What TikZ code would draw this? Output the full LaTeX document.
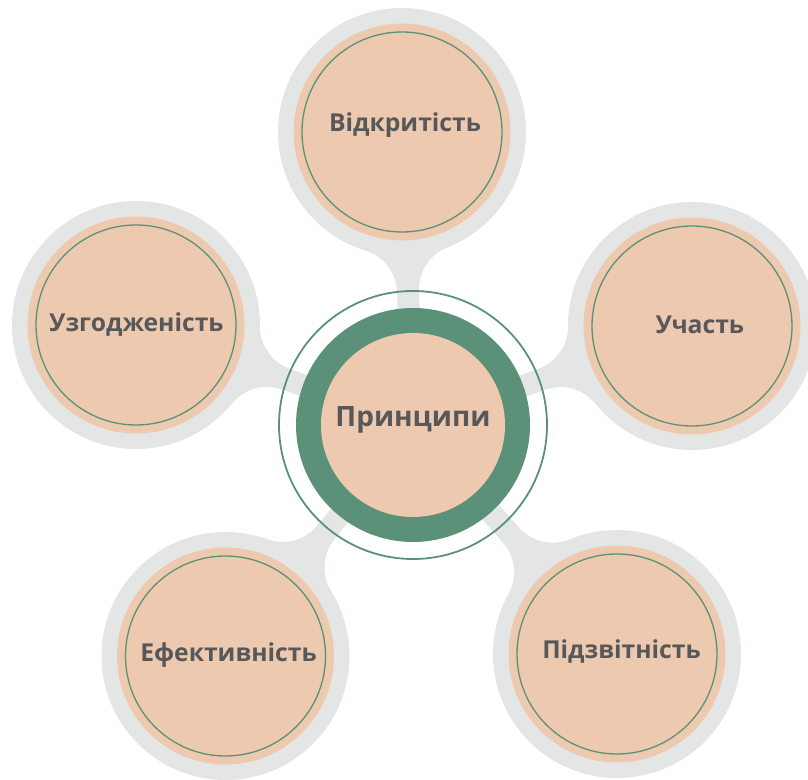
\documentclass[tikz,border=0pt]{standalone}
\usepackage{fontspec}
\setmainfont{Open Sans}
\usetikzlibrary{calc}
\definecolor{greyc}{HTML}{E4E6E5}
\definecolor{peachc}{HTML}{EDCAAF}
\definecolor{greenc}{HTML}{5B9179}
\definecolor{textc}{HTML}{58575A}
\begin{document}
\begin{tikzpicture}[x=1pt,y=1pt,
  lbl/.style={font=\bfseries\fontsize{24.7}{28}\selectfont, text=textc, inner sep=0pt},
  mainlbl/.style={font=\bfseries\fontsize{28}{32}\selectfont, text=textc, inner sep=0pt},
  greydisk/.style={circle, fill=greyc, minimum size=248pt, inner sep=0pt},
  peachdisk/.style={circle, fill=peachc, minimum size=217pt, inner sep=0pt},
  ringline/.style={greenc, line width=1.3pt},
]
\useasboundingbox (0,0) rectangle (808,779);
\coordinate (m) at (413,354);
\coordinate (top) at (402,647);
\coordinate (left) at (136,454);
\coordinate (right) at (692,453);
\coordinate (bl) at (225.5,123);
\coordinate (br) at (617,125);
% necks with fillets
\def\R{124}\def\r{45}\def\w{11}
\pgfmathsetmacro\cx{sqrt(\R-\w)*sqrt(\R+\w+2*\r)}
\pgfmathsetmacro\be{atan2(\w+\r,\cx)}
\pgfmathsetmacro\tx{\cx*(\R/(\R+\r))}
\pgfmathsetmacro\ty{(\w+\r)*(\R/(\R+\r))}
\foreach \c/\ox/\oy in {top/402/647, left/136/454, right/692/453, bl/225.5/123, br/617/125}{
  \pgfmathsetmacro\dx{413-\ox}
  \pgfmathsetmacro\dy{354-\oy}
  \pgfmathsetmacro\ang{atan2(\dy,\dx)}
  \pgfmathsetmacro\dd{10*veclen(\dx/10,\dy/10)}
  \fill[greyc, shift={(\c)}, rotate=\ang] (0,0) -- (\tx,\ty)
    arc[start angle=180+\be, end angle=270, radius=\r pt] -- (\dd,\w) -- (\dd,-\w) -- (\cx,-\w)
    arc[start angle=90, end angle=180-\be, radius=\r pt] -- (\tx,-\ty) -- cycle;
}
% outer circles
\foreach \c in {top,left,right,bl,br}{
  \node[greydisk] (g\c) at (\c) {};
  \node[peachdisk] (p\c) at (\c) {};
  \draw[ringline] (\c) circle (100pt);
}
% main circle
\draw[greenc, line width=1.8pt] (m) circle (134pt);
\fill[greenc] (m) circle (117pt);
\node[circle, fill=peachc, minimum size=184pt, inner sep=0pt] (pm) at (m) {};
% labels
\node[mainlbl] (tm) at (413,359) {Принципи};
\node[lbl] (ttop) at (405,654) {Відкритість};
\node[lbl] (tleft) at (136.5,454) {Узгодженість};
\node[lbl] (tright) at (700,454) {Участь};
\node[lbl] (tbl) at (228.5,124) {Ефективність};
\node[lbl] (tbr) at (621.5,127) {Підзвітність};
\end{tikzpicture}
\end{document}
